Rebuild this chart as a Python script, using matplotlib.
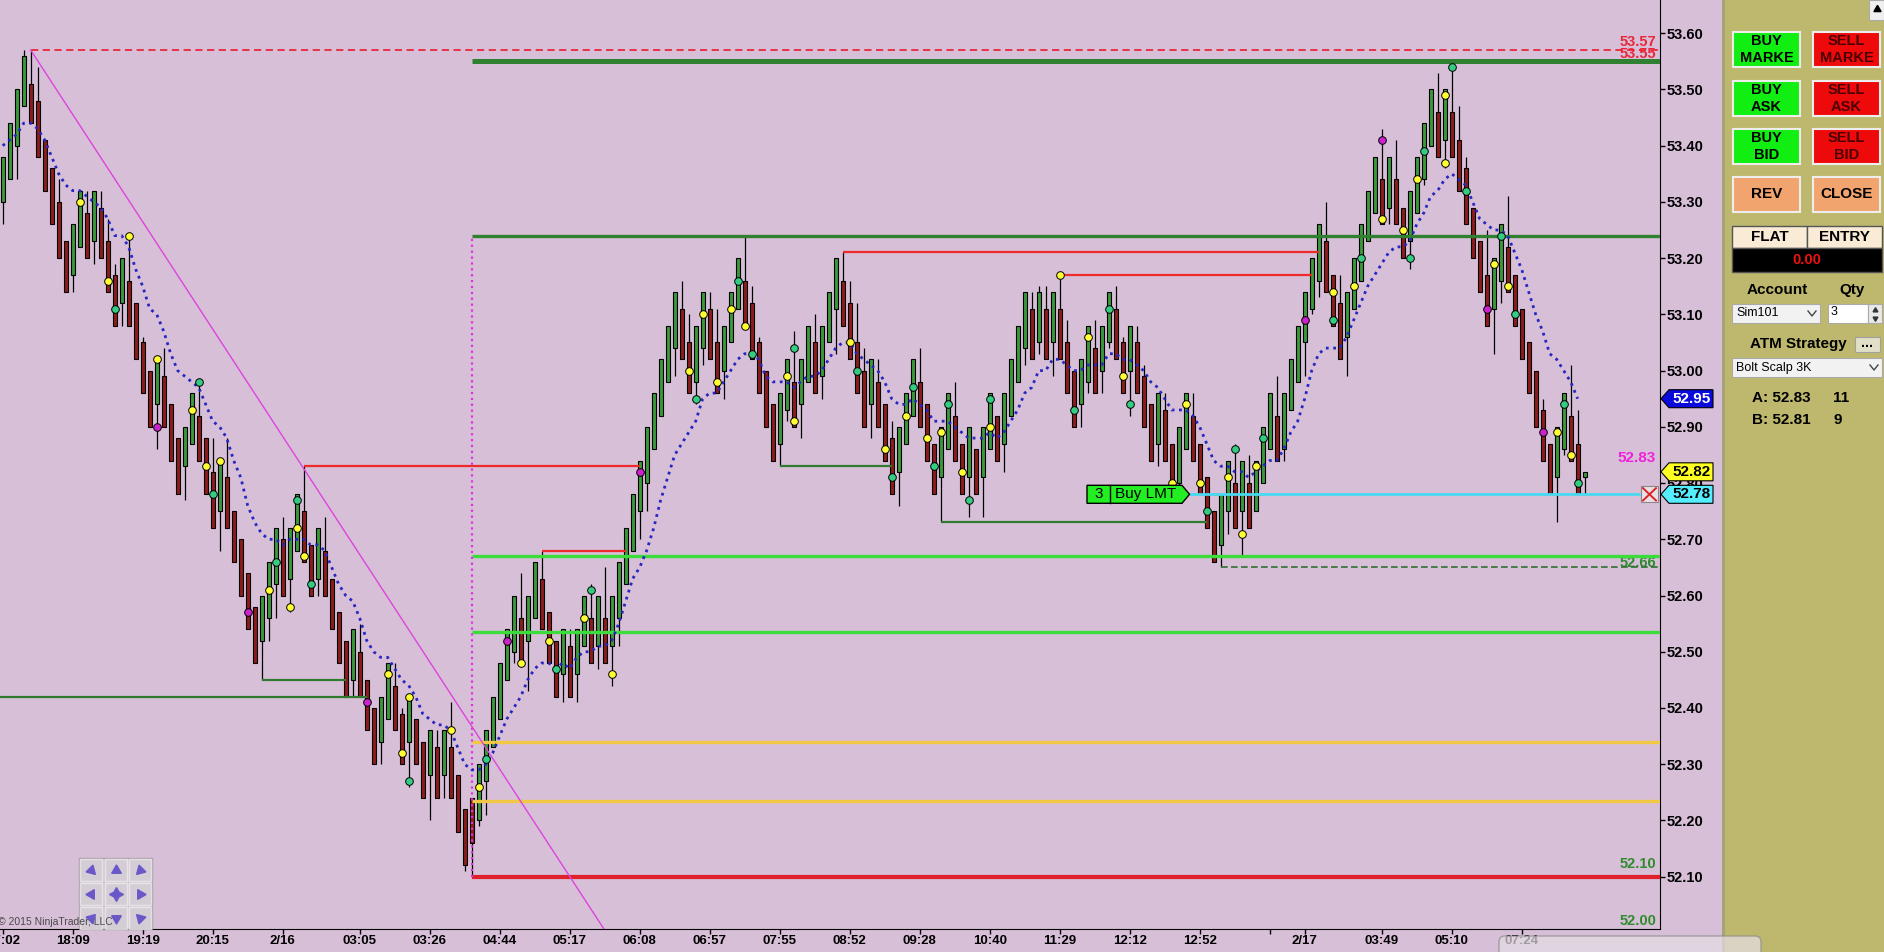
import matplotlib
matplotlib.use("Agg")
import matplotlib.pyplot as plt
from matplotlib.patches import Rectangle, Polygon, FancyBboxPatch
from matplotlib.lines import Line2D
from matplotlib.transforms import Affine2D, blended_transform_factory
import numpy as np

plt.rcParams['font.family'] = ['Liberation Sans', 'DejaVu Sans']

# ---------------- data ----------------
opens = [53.30, 53.34, 53.40, 53.47, 53.51, 53.48, 53.41, 53.36, 53.30, 53.23,
         53.17, 53.22, 53.28, 53.23, 53.29, 53.23, 53.17, 53.12, 53.16, 53.12,
         53.05, 53.00, 52.94, 52.99, 52.94, 52.88, 52.83, 52.87, 52.92, 52.88,
         52.82, 52.75, 52.81, 52.75, 52.70, 52.64, 52.58, 52.52, 52.56, 52.62,
         52.70, 52.63, 52.68, 52.75, 52.69, 52.63, 52.68, 52.63, 52.57, 52.52,
         52.45, 52.50, 52.45, 52.40, 52.34, 52.38, 52.44, 52.39, 52.34, 52.38,
         52.34, 52.28, 52.33, 52.28, 52.33, 52.28, 52.22, 52.24, 52.20, 52.27,
         52.33, 52.38, 52.45, 52.50, 52.56, 52.52, 52.56, 52.63, 52.57, 52.52,
         52.46, 52.51, 52.46, 52.51, 52.56, 52.51, 52.56, 52.51, 52.56, 52.62,
         52.68, 52.75, 52.80, 52.86, 52.92, 52.98, 53.04, 53.11, 53.05, 52.98,
         53.04, 53.11, 53.05, 53.00, 53.05, 53.11, 53.16, 53.12, 53.05, 53.00,
         52.94, 52.87, 52.93, 52.98, 52.94, 52.98, 53.05, 52.99, 53.05, 53.11,
         53.16, 53.12, 53.05, 53.00, 52.94, 52.98, 52.94, 52.88, 52.82, 52.87,
         52.92, 52.98, 52.94, 52.87, 52.81, 52.86, 52.92, 52.87, 52.81, 52.86,
         52.81, 52.86, 52.92, 52.87, 52.92, 52.98, 53.04, 53.11, 53.05, 53.11,
         53.05, 53.11, 53.05, 53.00, 52.94, 52.98, 53.04, 53.00, 53.05, 53.11,
         53.05, 53.00, 53.05, 52.99, 52.94, 52.87, 52.93, 52.87, 52.80, 52.86,
         52.92, 52.87, 52.81, 52.75, 52.69, 52.75, 52.80, 52.75, 52.80, 52.75,
         52.80, 52.86, 52.92, 52.86, 52.93, 52.98, 53.05, 53.11, 53.16, 53.23,
         53.17, 53.12, 53.06, 53.11, 53.16, 53.23, 53.28, 53.34, 53.29, 53.34,
         53.29, 53.23, 53.28, 53.34, 53.40, 53.46, 53.41, 53.46, 53.41, 53.36,
         53.29, 53.23, 53.17, 53.11, 53.16, 53.22, 53.17, 53.11, 53.05, 53.00,
         52.93, 52.87, 52.81, 52.86, 52.92, 52.87, 52.81]
highs = [53.38, 53.44, 53.50, 53.57, 53.57, 53.54, 53.41, 53.36, 53.34, 53.23,
         53.26, 53.32, 53.32, 53.32, 53.32, 53.27, 53.19, 53.20, 53.24, 53.12,
         53.06, 53.00, 53.02, 53.04, 52.94, 52.88, 52.90, 52.96, 52.98, 52.88,
         52.88, 52.84, 52.88, 52.75, 52.70, 52.64, 52.58, 52.60, 52.66, 52.72,
         52.74, 52.72, 52.78, 52.83, 52.69, 52.72, 52.74, 52.63, 52.57, 52.52,
         52.54, 52.55, 52.45, 52.40, 52.42, 52.48, 52.48, 52.40, 52.42, 52.38,
         52.34, 52.36, 52.36, 52.36, 52.41, 52.28, 52.22, 52.24, 52.30, 52.36,
         52.42, 52.48, 52.54, 52.60, 52.64, 52.60, 52.66, 52.68, 52.57, 52.52,
         52.54, 52.54, 52.54, 52.60, 52.62, 52.60, 52.65, 52.60, 52.66, 52.72,
         52.78, 52.84, 52.90, 52.96, 53.02, 53.08, 53.14, 53.16, 53.10, 53.08,
         53.14, 53.14, 53.11, 53.08, 53.14, 53.20, 53.24, 53.15, 53.06, 53.00,
         52.94, 52.96, 53.02, 53.07, 53.02, 53.08, 53.10, 53.08, 53.14, 53.20,
         53.21, 53.16, 53.12, 53.04, 53.02, 53.02, 52.94, 52.91, 52.90, 52.96,
         53.02, 53.04, 52.94, 52.87, 52.90, 52.96, 52.98, 52.87, 52.90, 52.86,
         52.90, 52.96, 52.92, 52.96, 53.02, 53.08, 53.14, 53.14, 53.15, 53.15,
         53.14, 53.17, 53.09, 53.00, 53.02, 53.08, 53.09, 53.08, 53.14, 53.15,
         53.06, 53.08, 53.08, 53.01, 52.94, 52.96, 52.96, 52.87, 52.90, 52.96,
         52.96, 52.87, 52.81, 52.75, 52.78, 52.84, 52.87, 52.84, 52.85, 52.84,
         52.90, 52.96, 52.99, 52.96, 53.02, 53.08, 53.14, 53.20, 53.26, 53.30,
         53.17, 53.17, 53.14, 53.20, 53.26, 53.32, 53.38, 53.43, 53.38, 53.41,
         53.29, 53.32, 53.38, 53.44, 53.50, 53.53, 53.50, 53.54, 53.47, 53.38,
         53.29, 53.23, 53.25, 53.20, 53.26, 53.31, 53.17, 53.11, 53.05, 53.00,
         52.95, 52.87, 52.90, 52.96, 53.01, 52.93, 52.82]
lows = [53.26, 53.34, 53.34, 53.47, 53.44, 53.38, 53.32, 53.26, 53.20, 53.14,
        53.14, 53.22, 53.20, 53.19, 53.20, 53.14, 53.08, 53.08, 53.08, 53.02,
        52.96, 52.90, 52.86, 52.90, 52.84, 52.78, 52.77, 52.87, 52.84, 52.78,
        52.72, 52.68, 52.72, 52.66, 52.60, 52.54, 52.48, 52.45, 52.52, 52.56,
        52.60, 52.57, 52.68, 52.66, 52.60, 52.60, 52.60, 52.54, 52.48, 52.42,
        52.42, 52.42, 52.36, 52.30, 52.30, 52.38, 52.36, 52.30, 52.26, 52.30,
        52.24, 52.20, 52.24, 52.24, 52.24, 52.18, 52.11, 52.10, 52.19, 52.21,
        52.33, 52.38, 52.45, 52.48, 52.48, 52.43, 52.56, 52.54, 52.48, 52.42,
        52.41, 52.42, 52.41, 52.51, 52.48, 52.47, 52.48, 52.44, 52.51, 52.62,
        52.68, 52.70, 52.75, 52.86, 52.92, 52.98, 52.99, 53.02, 52.96, 52.94,
        53.01, 53.02, 52.96, 52.95, 53.05, 53.11, 53.08, 53.02, 52.96, 52.90,
        52.84, 52.83, 52.91, 52.90, 52.88, 52.98, 52.96, 52.95, 53.05, 53.03,
        53.08, 53.02, 52.96, 52.90, 52.88, 52.90, 52.84, 52.78, 52.76, 52.87,
        52.92, 52.90, 52.84, 52.78, 52.73, 52.86, 52.84, 52.78, 52.74, 52.78,
        52.74, 52.86, 52.84, 52.82, 52.92, 52.98, 53.01, 53.02, 53.03, 53.02,
        52.99, 53.02, 52.96, 52.90, 52.90, 52.96, 52.96, 52.96, 53.04, 53.02,
        52.96, 52.92, 52.96, 52.90, 52.84, 52.83, 52.84, 52.79, 52.79, 52.86,
        52.84, 52.78, 52.72, 52.66, 52.65, 52.71, 52.72, 52.67, 52.72, 52.75,
        52.80, 52.86, 52.84, 52.84, 52.93, 52.98, 52.99, 53.10, 53.13, 53.14,
        53.08, 53.02, 52.99, 53.11, 53.16, 53.23, 53.28, 53.26, 53.26, 53.26,
        53.20, 53.18, 53.28, 53.33, 53.40, 53.38, 53.36, 53.38, 53.32, 53.26,
        53.20, 53.14, 53.08, 53.03, 53.12, 53.14, 53.08, 53.02, 52.96, 52.90,
        52.84, 52.78, 52.73, 52.85, 52.84, 52.78, 52.78]
closes = [53.38, 53.44, 53.50, 53.56, 53.44, 53.38, 53.32, 53.26, 53.20, 53.14,
          53.26, 53.32, 53.20, 53.32, 53.20, 53.14, 53.08, 53.20, 53.08, 53.02,
          52.96, 52.90, 53.02, 52.90, 52.84, 52.78, 52.90, 52.96, 52.84, 52.78,
          52.72, 52.84, 52.72, 52.66, 52.60, 52.54, 52.48, 52.60, 52.66, 52.72,
          52.60, 52.72, 52.78, 52.66, 52.60, 52.72, 52.60, 52.54, 52.48, 52.42,
          52.54, 52.42, 52.36, 52.30, 52.42, 52.48, 52.36, 52.30, 52.42, 52.30,
          52.24, 52.36, 52.24, 52.36, 52.24, 52.18, 52.12, 52.16, 52.30, 52.36,
          52.42, 52.48, 52.54, 52.60, 52.48, 52.60, 52.66, 52.54, 52.48, 52.42,
          52.54, 52.42, 52.54, 52.60, 52.48, 52.60, 52.48, 52.60, 52.66, 52.72,
          52.78, 52.84, 52.90, 52.96, 53.02, 53.08, 53.14, 53.02, 52.96, 53.08,
          53.14, 53.02, 52.96, 53.08, 53.14, 53.20, 53.08, 53.02, 52.96, 52.90,
          52.84, 52.96, 53.02, 52.90, 53.02, 53.08, 52.96, 53.08, 53.14, 53.20,
          53.08, 53.02, 52.96, 52.90, 53.02, 52.90, 52.84, 52.78, 52.90, 52.96,
          53.02, 52.90, 52.84, 52.78, 52.90, 52.96, 52.84, 52.78, 52.90, 52.78,
          52.90, 52.96, 52.84, 52.96, 53.02, 53.08, 53.14, 53.02, 53.14, 53.02,
          53.14, 53.02, 52.96, 52.90, 53.02, 53.08, 52.96, 53.08, 53.14, 53.02,
          52.96, 53.08, 52.96, 52.90, 52.84, 52.96, 52.84, 52.79, 52.90, 52.96,
          52.84, 52.78, 52.72, 52.66, 52.78, 52.84, 52.72, 52.84, 52.72, 52.84,
          52.90, 52.96, 52.84, 52.96, 53.02, 53.08, 53.14, 53.20, 53.26, 53.14,
          53.08, 53.02, 53.14, 53.20, 53.26, 53.32, 53.38, 53.26, 53.38, 53.26,
          53.20, 53.32, 53.38, 53.44, 53.50, 53.38, 53.50, 53.38, 53.32, 53.26,
          53.20, 53.14, 53.08, 53.20, 53.26, 53.14, 53.08, 53.02, 52.96, 52.90,
          52.84, 52.78, 52.90, 52.96, 52.84, 52.78, 52.82]

# moving-average indicator (one value per bar, bars 0..225)
sma = [53.40, 53.41, 53.42, 53.44, 53.44, 53.43, 53.41, 53.38, 53.35, 53.33,
       53.32, 53.32, 53.31, 53.30, 53.29, 53.27, 53.24, 53.24, 53.22, 53.18,
       53.15, 53.11, 53.10, 53.07, 53.03, 53.00, 52.99, 52.98, 52.97, 52.94,
       52.91, 52.90, 52.88, 52.84, 52.81, 52.76, 52.73, 52.71, 52.70, 52.70,
       52.69, 52.70, 52.70, 52.70, 52.69, 52.69, 52.68, 52.65, 52.62, 52.60,
       52.59, 52.56, 52.52, 52.50, 52.49, 52.49, 52.47, 52.45, 52.44, 52.42,
       52.39, 52.38, 52.37, 52.37, 52.36, 52.33, 52.30, 52.29, 52.29, 52.30,
       52.32, 52.35, 52.38, 52.40, 52.42, 52.45, 52.47, 52.48, 52.48, 52.47,
       52.48, 52.47, 52.49, 52.50, 52.50, 52.51, 52.51, 52.52, 52.55, 52.59,
       52.63, 52.65, 52.68, 52.72, 52.77, 52.81, 52.85, 52.87, 52.89, 52.91,
       52.95, 52.96, 52.96, 52.98, 53.00, 53.02, 53.03, 53.03, 53.02, 52.99,
       52.98, 52.98, 52.98, 52.97, 52.98, 52.99, 52.99, 53.00, 53.02, 53.04,
       53.05, 53.05, 53.03, 53.02, 53.01, 53.00, 52.98, 52.95, 52.94, 52.94,
       52.95, 52.94, 52.93, 52.91, 52.91, 52.91, 52.90, 52.89, 52.88, 52.88,
       52.88, 52.89, 52.88, 52.89, 52.91, 52.93, 52.96, 52.97, 53.00, 53.00,
       53.02, 53.02, 53.01, 53.00, 53.00, 53.01, 53.01, 53.01, 53.03, 53.03,
       53.02, 53.02, 53.01, 53.00, 52.98, 52.97, 52.95, 52.93, 52.93, 52.93,
       52.92, 52.90, 52.87, 52.84, 52.83, 52.83, 52.82, 52.82, 52.81, 52.82,
       52.83, 52.84, 52.84, 52.86, 52.89, 52.91, 52.95, 53.00, 53.03, 53.04,
       53.04, 53.04, 53.06, 53.09, 53.12, 53.15, 53.17, 53.19, 53.21, 53.22,
       53.22, 53.23, 53.26, 53.28, 53.31, 53.32, 53.34, 53.35, 53.34, 53.33,
       53.30, 53.27, 53.26, 53.25, 53.25, 53.24, 53.21, 53.18, 53.14, 53.10,
       53.07, 53.03, 53.02, 53.00, 52.98, 52.95]

yellow_bars = [11, 15, 18, 22, 27, 29, 31, 38, 41, 42, 43, 55, 57, 58, 64, 68, 74, 78, 83, 87,
               98, 100, 102, 104, 106, 112, 113, 121, 126, 129, 132, 134, 137, 141, 151, 155,
               160, 167, 169, 171, 175, 177, 179, 190, 193, 197, 200, 202, 206, 206, 213, 215,
               222, 224]
yellow_prices = [53.30, 53.16, 53.24, 53.02, 52.93, 52.83, 52.84, 52.61, 52.58, 52.72, 52.67,
                 52.46, 52.32, 52.42, 52.36, 52.26, 52.48, 52.52, 52.56, 52.46, 53.00, 53.10,
                 52.98, 53.11, 53.08, 52.99, 52.91, 53.05, 52.86, 52.92, 52.88, 52.89, 52.82,
                 52.90, 53.17, 53.06, 52.99, 52.80, 52.94, 52.80, 52.81, 52.71, 52.83, 53.14,
                 53.15, 53.27, 53.25, 53.34, 53.49, 53.37, 53.19, 53.15, 52.89, 52.85]
green_bars = [16, 28, 30, 39, 42, 44, 58, 69, 79, 84, 99, 105, 107, 113, 122, 127, 130, 133,
              135, 138, 141, 153, 158, 161, 172, 176, 180, 190, 194, 201, 203, 207, 209, 214,
              216, 223, 225]
green_prices = [53.11, 52.98, 52.78, 52.66, 52.77, 52.62, 52.27, 52.31, 52.47, 52.61, 52.95,
                53.16, 53.03, 53.04, 53.00, 52.81, 52.97, 52.83, 52.94, 52.77, 52.95, 52.93,
                53.11, 52.94, 52.75, 52.86, 52.88, 53.09, 53.20, 53.20, 53.39, 53.54, 53.32,
                53.24, 53.10, 52.94, 52.80]
magenta_bars = [22, 35, 52, 72, 91, 186, 197, 212, 220]
magenta_prices = [52.90, 52.57, 52.41, 52.52, 52.82, 53.09, 53.41, 53.11, 52.89]

trend_bars = [4, 86]
trend_prices = [53.57, 52.005]

# horizontal drawing objects: price, first bar, last bar (None = chart edge)
level_prices = [53.57, 53.55, 53.24, 52.83, 52.68, 53.21, 53.17, 52.45, 52.42, 52.83,
                52.73, 52.67, 52.535, 52.34, 52.235, 52.10, 52.65]
level_from = [4, 67, 67, 43, 77, 120, 151, 37, None, 111, 134, 67, 67, 67, 67, 67, 174]
level_to = [None, None, None, 91, 89, 188, 187, 49, 52, 127, 172, None, None, None, None, None, None]
level_kind = ['reddash', 'dkgreen_thick', 'dkgreen_mid', 'red', 'red', 'red', 'red',
              'dkgreen', 'dkgreen', 'dkgreen', 'dkgreen', 'lime', 'lime', 'gold', 'gold',
              'redthick', 'greendash']
vline_bar = 67
vline_range = [52.10, 53.24]
order_price = 52.78

time_tick_bars = [0, 10, 20, 30, 40, 51, 61, 71, 81, 91, 101, 111, 121, 131, 141, 151, 161,
                  171, 181, 186, 197, 207, 217]
time_tick_labels = ['17:02', '18:09', '19:19', '20:15', '2/16', '03:05', '03:26', '04:44',
                    '05:17', '06:08', '06:57', '07:55', '08:52', '09:28', '10:40', '11:29',
                    '12:12', '12:52', '', '2/17', '03:49', '05:10', '07:24']
price_ticks = [52.10, 52.20, 52.30, 52.40, 52.50, 52.60, 52.70, 52.80, 52.90, 53.00,
               53.10, 53.20, 53.30, 53.40, 53.50, 53.60]

# ---------------- styling ----------------
BG = '#D8BFD8'
UP = '#3A9A3A'
DN = '#8E1C1C'
styles = {
    'reddash': dict(color='#E8283A', lw=1.3, ls=(0, (4, 2.5))),
    'dkgreen_thick': dict(color='#2F8030', lw=3.6, ls='-'),
    'dkgreen_mid': dict(color='#2F8030', lw=2.4, ls='-'),
    'red': dict(color='#EE2A2A', lw=1.6, ls='-'),
    'dkgreen': dict(color='#2F7A2F', lw=1.6, ls='-'),
    'lime': dict(color='#3CDC3C', lw=2.4, ls='-'),
    'gold': dict(color='#F2C744', lw=2.4, ls='-'),
    'redthick': dict(color='#E0202A', lw=3.0, ls='-'),
    'greendash': dict(color='#2F6F2F', lw=1.2, ls=(0, (4, 2))),
}

W, H = 1884, 952
fig = plt.figure(figsize=(W / 100, H / 100), dpi=100)
fig.patch.set_facecolor(BG)
ax = fig.add_axes([0, 23 / H, 1660 / W, 929 / H])
ax.set_facecolor(BG)
XL = (-0.386, 236.76)
ax.set_xlim(*XL)
ax.set_ylim(52.007, 53.659)

px = Affine2D().scale(1 / W, 1 / H) + fig.transFigure
tx = blended_transform_factory(px, ax.transData)

# candles
x = np.arange(len(opens))
o, hi, lo, c = map(np.array, (opens, highs, lows, closes))
up = c >= o
ax.vlines(x, lo, hi, color='black', lw=0.9, zorder=2)
ax.bar(x[up], np.maximum((c - o)[up], 0.004), bottom=o[up], width=0.54, color=UP,
       edgecolor='black', linewidth=0.8, zorder=3)
ax.bar(x[~up], (o - c)[~up], bottom=c[~up], width=0.54, color=DN,
       edgecolor='black', linewidth=0.8, zorder=3)

# level lines
for p, f, t, k in zip(level_prices, level_from, level_to, level_kind):
    st = styles[k]
    x0 = XL[0] if f is None else f
    x1 = XL[1] if t is None else t
    ax.plot([x0, x1], [p, p], color=st['color'], lw=st['lw'], ls=st['ls'],
            zorder=3.5, solid_capstyle='butt')
ax.vlines(vline_bar, vline_range[0], vline_range[1], colors='#DD33DD', linestyles=':',
          lw=1.6, zorder=3.5)
ax.plot(trend_bars, trend_prices, color='#DD44DD', lw=1.0, zorder=3.6)

# indicator
ax.plot(np.arange(len(sma)), sma, color='#2626C0', lw=2.0, ls=':', zorder=4)

# dots
for bars, prices, col in ((yellow_bars, yellow_prices, '#FFFF33'),
                          (green_bars, green_prices, '#33CC80'),
                          (magenta_bars, magenta_prices, '#CC22CC')):
    ax.plot(bars, prices, ls='none', marker='o', ms=5.5, mfc=col, mec='black', mew=0.7,
            zorder=5)

# order line (cyan) and buy LMT tag
ax.plot([1189, 1640], [order_price, order_price], color='#48D8F0', lw=2.0, transform=tx,
        zorder=4.5, solid_capstyle='butt')
hh = 0.016
tag = Polygon([(1087, order_price - hh), (1182, order_price - hh), (1189.5, order_price),
               (1182, order_price + hh), (1087, order_price + hh)], closed=True,
              transform=tx, fc='#22EE22', ec='black', lw=1.0, zorder=6)
ax.add_patch(tag)
ax.plot([1110, 1110], [order_price - hh, order_price + hh], color='black', lw=1.0,
        transform=tx, zorder=6.5)
ax.text(1098.5, order_price, '3', transform=tx, ha='center', va='center', fontsize=11,
        zorder=7)
ax.text(1146, order_price, 'Buy LMT', transform=tx, ha='center', va='center', fontsize=11,
        zorder=7)

# in-chart right labels
ax.text(1656, 53.585, '53.57', transform=tx, ha='right', va='center', fontsize=10.5,
        fontweight='bold', color='#E8283A', zorder=3)
ax.text(1656, 53.563, '53.55', transform=tx, ha='right', va='center', fontsize=10.5,
        fontweight='bold', color='#E8283A', zorder=3)
ax.text(1656, 52.845, '52.83', transform=tx, ha='right', va='center', fontsize=11,
        fontweight='bold', color='#EE22DD', zorder=3)
ax.text(1656, 52.657, '52.66', transform=tx, ha='right', va='center', fontsize=10.5,
        fontweight='bold', color='#2E8B2E', zorder=3)
ax.text(1656, 52.123, '52.10', transform=tx, ha='right', va='center', fontsize=10.5,
        fontweight='bold', color='#2E8B2E', zorder=3)
ax.text(1656, 52.022, '52.00', transform=tx, ha='right', va='center', fontsize=10.5,
        fontweight='bold', color='#2E8B2E', zorder=3)

# red X box next to the order line
bx = Rectangle((1641, order_price - 0.014), 17, 0.028, transform=tx, fc='#E8E0E8',
               ec='#888888', lw=0.8, zorder=6)
ax.add_patch(bx)
ax.plot([1643, 1656], [order_price - 0.011, order_price + 0.011], color='#E02020', lw=1.4,
        transform=tx, zorder=7, clip_on=False)
ax.plot([1643, 1656], [order_price + 0.011, order_price - 0.011], color='#E02020', lw=1.4,
        transform=tx, zorder=7, clip_on=False)

# axes / ticks
for s in ('top', 'left'):
    ax.spines[s].set_visible(False)
ax.spines['right'].set_color('black')
ax.spines['bottom'].set_color('black')
ax.yaxis.tick_right()
ax.set_yticks(price_ticks)
ax.set_yticklabels(['%.2f' % v for v in price_ticks], fontweight='bold', fontsize=10.5)
ax.tick_params(axis='y', length=3.6, width=1, pad=1.5, colors='black')
ax.set_xticks(time_tick_bars)
ax.set_xticklabels(time_tick_labels, fontweight='bold', fontsize=9.5)
ax.tick_params(axis='x', length=3.5, width=1, pad=1)


# ---------------- helpers for chrome ----------------
def rect(x0, y0, x1, y1, z=2, **kw):
    r = Rectangle((x0, H - y1), x1 - x0, y1 - y0, transform=px, zorder=z, **kw)
    fig.add_artist(r)
    return r


def txt(xp, yp, s, **kw):
    kw.setdefault('zorder', 4)
    return fig.text(xp, H - yp, s, transform=px, **kw)


def mark(xp, yp, m, **kw):
    fig.add_artist(Line2D([xp], [H - yp], marker=m, ls='none', transform=px, **kw))


# price tags on the axis
def price_tag(p, label, fc, tc):
    h = 0.016
    pg = Polygon([(1661, p), (1669, p + h), (1713, p + h), (1713, p - h), (1669, p - h)],
                 closed=True, transform=tx, fc=fc, ec='black', lw=0.8, zorder=3)
    fig.add_artist(pg)
    fig.text(1692, p, label, transform=tx, ha='center', va='center', fontsize=11,
             fontweight='bold', color=tc, zorder=4)


price_tag(52.95, '52.95', '#0A0ADD', 'white')
price_tag(52.82, '52.82', '#FFFF22', 'black')
price_tag(52.78, '52.78', '#55EEFF', 'black')

# copyright + navigation widget
rect(79, 858, 152, 929, z=3, fc='#D2CCD2', ec='#9A9A9A', lw=1.0, alpha=0.7)
cells_x = [91, 115.5, 140]
cells_y = [870, 894, 918]
glyphs = [[(3, 0, -135), (3, 0, 0), (3, 0, 135)],
          [(3, 0, 90), (4, 1, 0), (3, 0, -90)],
          [(3, 0, -45), (3, 0, 180), (3, 0, 45)]]
for r_i, cy in enumerate(cells_y):
    for c_i, cx in enumerate(cells_x):
        rect(cx - 11, cy - 11, cx + 11, cy + 11, z=3.1, fc='#D8D2D8', ec='#F4F4F4', lw=1.0,
             alpha=0.6)
        ms = 10 if glyphs[r_i][c_i][1] == 1 else 8
        mark(cx, cy, glyphs[r_i][c_i], ms=ms, mfc='#6A58C8', mec='#6A58C8', zorder=3.3)
txt(-2, 922, '\u00a9 2015 NinjaTrader, LLC', fontsize=7.5, color='#2A2A2A', va='center',
    ha='left', zorder=3.2, alpha=0.8)

# ---------------- right order panel ----------------
rect(1722, 0, W, H, z=1, fc='#BEB86E', ec='none')
rect(1722, 0, 1725, H, z=1.1, fc='#A6A27A', ec='none')
rect(1869, 0, W, 20, z=2, fc='#F0F0F0', ec='#AAAAAA', lw=0.8)
mark(1877, 9, (3, 0, 0), ms=6, mfc='black', mec='black', zorder=3)

buttons = [('BUY', 'MARKE', 1733, 32, '#11EE11', 'black'),
           ('SELL', 'MARKE', 1813, 32, '#EE0A0A', '#4A0000'),
           ('BUY', 'ASK', 1733, 81, '#11EE11', 'black'),
           ('SELL', 'ASK', 1813, 81, '#EE0A0A', '#4A0000'),
           ('BUY', 'BID', 1733, 129, '#11EE11', 'black'),
           ('SELL', 'BID', 1813, 129, '#EE0A0A', '#4A0000')]
for l1, l2, bx0, by0, fc, tc in buttons:
    rect(bx0, by0, bx0 + 67, by0 + 35, z=2, fc=fc, ec='#EDEDED', lw=1.5)
    txt(bx0 + 33.5, by0 + 9, l1, ha='center', va='center', fontsize=10.5, fontweight='bold',
        color=tc)
    txt(bx0 + 33.5, by0 + 26, l2, ha='center', va='center', fontsize=10.5, fontweight='bold',
        color=tc)
for lab, bx0 in (('REV', 1733), ('CLOSE', 1813)):
    rect(bx0, 177, bx0 + 67, 212, z=2, fc='#F2A46E', ec='#EDEDED', lw=1.5)
    txt(bx0 + 33.5, 194.5, lab, ha='center', va='center', fontsize=11, fontweight='bold',
        color='black')

rect(1732, 226, 1807, 248, z=2, fc='#FAEBD7', ec='#555555', lw=1.0)
rect(1807, 226, 1882, 248, z=2, fc='#FAEBD7', ec='#555555', lw=1.0)
txt(1769.5, 237, 'FLAT', ha='center', va='center', fontsize=11, fontweight='bold')
txt(1844.5, 237, 'ENTRY', ha='center', va='center', fontsize=11, fontweight='bold')
rect(1732, 248, 1882, 272, z=2, fc='black', ec='#555555', lw=1.0)
txt(1807, 260, '0.00', ha='center', va='center', fontsize=10.5, fontweight='bold',
    color='#EE1111')

txt(1777, 290, 'Account', ha='center', va='center', fontsize=11, fontweight='bold')
txt(1852, 290, 'Qty', ha='center', va='center', fontsize=11, fontweight='bold')
rect(1732, 304, 1820, 323, z=2, fc='#F2F2F2', ec='#AAAAAA', lw=0.8)
txt(1736, 313.5, 'Sim101', ha='left', va='center', fontsize=9)
fig.add_artist(Line2D([1808, 1812, 1816], [H - 311, H - 316, H - 311], color='#444444',
                      lw=1.0, transform=px, zorder=4))
rect(1828, 304, 1868, 323, z=2, fc='white', ec='#AAAAAA', lw=0.8)
rect(1868, 304, 1882, 323, z=2, fc='#E8E8E8', ec='#AAAAAA', lw=0.8)
txt(1831, 312, '3', ha='left', va='center', fontsize=9)
mark(1875, 309.5, (3, 0, 0), ms=4, mfc='#333333', mec='#333333', zorder=4)
mark(1875, 318, (3, 0, 180), ms=4, mfc='#333333', mec='#333333', zorder=4)

txt(1798, 344, 'ATM Strategy', ha='center', va='center', fontsize=11, fontweight='bold')
rect(1855, 337, 1880, 352, z=2, fc='#E2DFC8', ec='#A0A0A0', lw=0.8)
txt(1867.5, 343, '...', ha='center', va='center', fontsize=10, fontweight='bold')
rect(1732, 358, 1882, 377, z=2, fc='#F2F2F2', ec='#AAAAAA', lw=0.8)
txt(1736, 367.5, 'Bolt Scalp 3K', ha='left', va='center', fontsize=9)
fig.add_artist(Line2D([1870, 1874, 1878], [H - 365, H - 370, H - 365], color='#444444',
                      lw=1.0, transform=px, zorder=4))

txt(1752, 398.5, 'A: 52.83', ha='left', va='center', fontsize=11, fontweight='bold')
txt(1833, 398.5, '11', ha='left', va='center', fontsize=11, fontweight='bold')
txt(1752, 420, 'B: 52.81', ha='left', va='center', fontsize=11, fontweight='bold')
txt(1833, 420, '9', ha='left', va='center', fontsize=11, fontweight='bold')

# notification popup at the bottom
pop = FancyBboxPatch((1499, H - 965), 262, 29, boxstyle='round,pad=0,rounding_size=6',
                     transform=px, fc='#E6DEE6', ec='#8A8A8A', lw=1.0, alpha=0.7, zorder=6)
fig.add_artist(pop)

fig.savefig('out.png', dpi=100, facecolor=BG)
